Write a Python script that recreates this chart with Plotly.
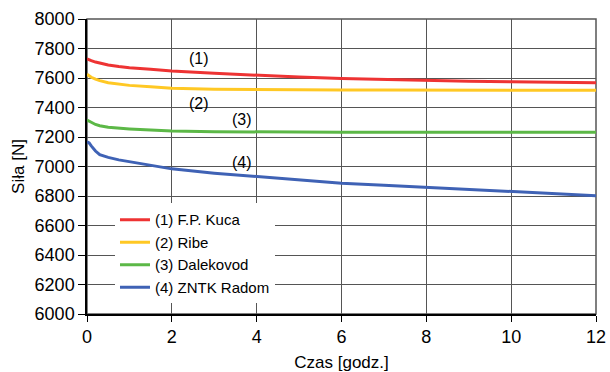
import plotly.graph_objects as go

time_h = [0, 0.05, 0.1, 0.2, 0.3, 0.5, 0.75, 1, 1.5, 2, 3, 4, 5, 6, 7, 8, 9, 10, 11, 12]

kuca = [7730, 7722, 7718, 7708, 7700, 7688, 7678, 7670, 7660, 7648, 7632, 7618, 7606, 7597, 7590, 7584, 7578, 7574, 7570, 7567]
ribe = [7625, 7612, 7605, 7592, 7582, 7568, 7558, 7550, 7540, 7530, 7524, 7521, 7519, 7518, 7518, 7517, 7517, 7517, 7517, 7517]
dalekovod = [7315, 7310, 7300, 7285, 7276, 7266, 7259, 7255, 7247, 7241, 7236, 7233, 7232, 7232, 7232, 7232, 7232, 7232, 7232, 7232]
radom = [7168, 7160, 7140, 7105, 7080, 7062, 7045, 7033, 7010, 6984, 6955, 6932, 6906, 6887, 6873, 6859, 6845, 6830, 6815, 6802]

series_names = ["(1) F.P. Kuca", "(2) Ribe", "(3) Dalekovod", "(4) ZNTK Radom"]
series_values = [kuca, ribe, dalekovod, radom]
colors = ["#ee3333", "#ffc824", "#5cb847", "#3f62b5"]

label_texts = ["(1)", "(2)", "(3)", "(4)"]
label_x = [2.64, 2.64, 3.65, 3.65]
label_y = [7729, 7430, 7322, 7030]

x_ticks = [0, 2, 4, 6, 8, 10, 12]
y_ticks = list(range(6000, 8001, 200))

FONT = "Liberation Sans, Arial, sans-serif"

fig = go.Figure()
for name, vals, col in zip(series_names, series_values, colors):
    fig.add_trace(go.Scatter(x=time_h, y=vals, mode="lines", name=name,
                             line=dict(color=col, width=3)))

for t, x, y in zip(label_texts, label_x, label_y):
    fig.add_annotation(x=x, y=y, text=t, showarrow=False,
                       font=dict(family=FONT, size=16, color="black"))

fig.add_shape(type="rect", xref="paper", yref="paper", x0=0, y0=0, x1=1, y1=1,
              line=dict(color="#555555", width=1.5), layer="below")

fig.update_layout(
    width=610, height=372,
    margin=dict(l=87, r=14, t=19, b=58),
    paper_bgcolor="white", plot_bgcolor="white",
    font=dict(family=FONT, size=18, color="black"),
    showlegend=True,
    legend=dict(x=0.055, y=0.375, xanchor="left", yanchor="top",
                bgcolor="white", borderwidth=0,
                font=dict(family=FONT, size=15, color="black"),
                itemwidth=30),
    xaxis=dict(range=[0, 12], tickvals=x_ticks, showgrid=True,
               gridcolor="#555555", gridwidth=1, automargin=False,
               showline=True, linecolor="black", linewidth=1.5,
               ticks="outside", ticklen=6, tickcolor="black",
               zeroline=False,
               title=dict(text="Czas [godz.]", font=dict(size=17), standoff=10)),
    yaxis=dict(range=[6000, 8000], tickvals=y_ticks, showgrid=True,
               gridcolor="#555555", gridwidth=1, automargin=False,
               showline=True, linecolor="black", linewidth=1.5,
               ticks="outside", ticklen=7, tickcolor="black",
               zeroline=False,
               title=dict(text="Siła [N]", font=dict(size=17), standoff=6)),
)

fig.write_html("out.html")
